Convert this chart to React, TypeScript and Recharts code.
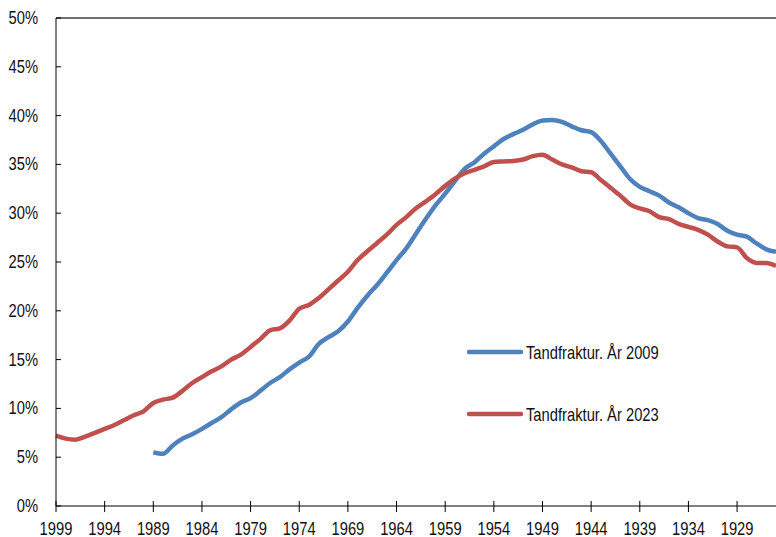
import { LineChart, Line, XAxis, YAxis, ReferenceLine } from "recharts";

const years = [
  1999, 1998, 1997, 1996, 1995, 1994, 1993, 1992, 1991, 1990,
  1989, 1988, 1987, 1986, 1985, 1984, 1983, 1982, 1981, 1980,
  1979, 1978, 1977, 1976, 1975, 1974, 1973, 1972, 1971, 1970,
  1969, 1968, 1967, 1966, 1965, 1964, 1963, 1962, 1961, 1960,
  1959, 1958, 1957, 1956, 1955, 1954, 1953, 1952, 1951, 1950,
  1949, 1948, 1947, 1946, 1945, 1944, 1943, 1942, 1941, 1940,
  1939, 1938, 1937, 1936, 1935, 1934, 1933, 1932, 1931, 1930,
  1929, 1928, 1927, 1926, 1925,
];

// Tandfraktur, år 2009 (no data for the youngest cohorts)
const fracture2009 = [
  null, null, null, null, null, null, null, null, null, null,
  5.5, 5.35, 6.2, 6.9, 7.35, 7.9, 8.5, 9.1, 9.9, 10.6,
  11.05, 11.8, 12.6, 13.2, 14.0, 14.7, 15.3, 16.6, 17.3, 17.9,
  18.9, 20.3, 21.55, 22.65, 23.9, 25.2, 26.4, 27.9, 29.4, 30.8,
  32.0, 33.3, 34.55, 35.2, 36.1, 36.85, 37.6, 38.1, 38.55, 39.1,
  39.5, 39.55, 39.35, 38.9, 38.5, 38.3, 37.4, 36.1, 34.8, 33.5,
  32.7, 32.25, 31.8, 31.1, 30.6, 30.0, 29.5, 29.3, 28.9, 28.2,
  27.8, 27.6, 26.9, 26.3, 26.05,
];

// Tandfraktur, år 2023
const fracture2023 = [
  7.2, 6.9, 6.8, 7.1, 7.5, 7.9, 8.3, 8.8, 9.3, 9.7,
  10.55, 10.9, 11.1, 11.8, 12.6, 13.2, 13.8, 14.3, 15.0, 15.5,
  16.3, 17.1, 18.0, 18.2, 19.0, 20.2, 20.6, 21.3, 22.2, 23.1,
  24.0, 25.2, 26.1, 26.95, 27.8, 28.8, 29.6, 30.5, 31.2, 31.95,
  32.8, 33.55, 34.1, 34.45, 34.8, 35.25, 35.3, 35.35, 35.5, 35.85,
  36.0, 35.5, 35.0, 34.7, 34.3, 34.2, 33.4, 32.6, 31.8, 30.9,
  30.5, 30.2, 29.6, 29.4, 28.9, 28.6, 28.3, 27.8, 27.1, 26.6,
  26.5, 25.4, 24.9, 24.9, 24.6,
];

const yTicks = [0, 5, 10, 15, 20, 25, 30, 35, 40, 45, 50];

const seriesNames = ["Tandfraktur. År 2009", "Tandfraktur. År 2023"];

const data = years.map((year, i) => ({
  year,
  v2009: fracture2009[i],
  v2023: fracture2023[i],
}));

// Liberation Sans squeezed to 82% ~ Arial Narrow
const FONT = "'Liberation Sans', Arial, sans-serif";
const NARROW = 0.82;
const BLUE = "#4F81BD";
const RED = "#C0504D";

const NarrowText = ({ x, y, anchor, children }: any) => (
  <g transform={`translate(${x},${y}) scale(${NARROW},1)`}>
    <text x={0} y={0} textAnchor={anchor} fontSize={18} fontFamily={FONT} fill="#111">
      {children}
    </text>
  </g>
);

const YTick = ({ x, y, payload }: any) => (
  <g>
    <line x1={x} x2={x + 5} y1={y} y2={y} stroke="#000" />
    <NarrowText x={38} y={y + 6} anchor="end">
      {payload.value}%
    </NarrowText>
  </g>
);

const XTick = ({ x, y, payload }: any) => (
  <g>
    <line x1={x} x2={x} y1={y - 5} y2={y + 6} stroke="#000" />
    <NarrowText x={x} y={y + 29} anchor="middle">
      {payload.value}
    </NarrowText>
  </g>
);

const LegendOverlay = () => {
  const colors = [BLUE, RED];
  return (
    <svg width={776} height={537} style={{ position: "absolute", left: 0, top: 0, pointerEvents: "none" }}>
      {seriesNames.map((name, i) => {
        const y = 352 + i * 62;
        return (
          <g key={name}>
            <line x1={469} x2={521} y1={y} y2={y} stroke={colors[i]} strokeWidth={4.5} strokeLinecap="round" />
            <NarrowText x={526} y={y + 7} anchor="start">
              {name}
            </NarrowText>
          </g>
        );
      })}
    </svg>
  );
};

export default function App() {
  return (
    <div style={{ position: "absolute", left: 0, top: 0, width: 776, height: 537, background: "#fff" }}>
      <LineChart width={776} height={537} data={data} margin={{ top: 18, right: 0, bottom: 0, left: 0 }}>
        <XAxis
          dataKey="year"
          interval={4}
          height={31}
          tickSize={0}
          tickMargin={0}
          tick={<XTick />}
          axisLine={{ stroke: "#000" }}
        />
        <YAxis
          domain={[0, 50]}
          ticks={yTicks}
          width={56}
          tickSize={0}
          tickMargin={0}
          tick={<YTick />}
          axisLine={{ stroke: "#000" }}
        />
        <ReferenceLine y={50} stroke="#404040" strokeWidth={1.5} />
        <Line
          type="monotone"
          dataKey="v2009"
          name={seriesNames[0]}
          stroke={BLUE}
          strokeWidth={4.5}
          dot={false}
          isAnimationActive={false}
        />
        <Line
          type="monotone"
          dataKey="v2023"
          name={seriesNames[1]}
          stroke={RED}
          strokeWidth={4.5}
          dot={false}
          isAnimationActive={false}
        />
      </LineChart>
      <LegendOverlay />
    </div>
  );
}
